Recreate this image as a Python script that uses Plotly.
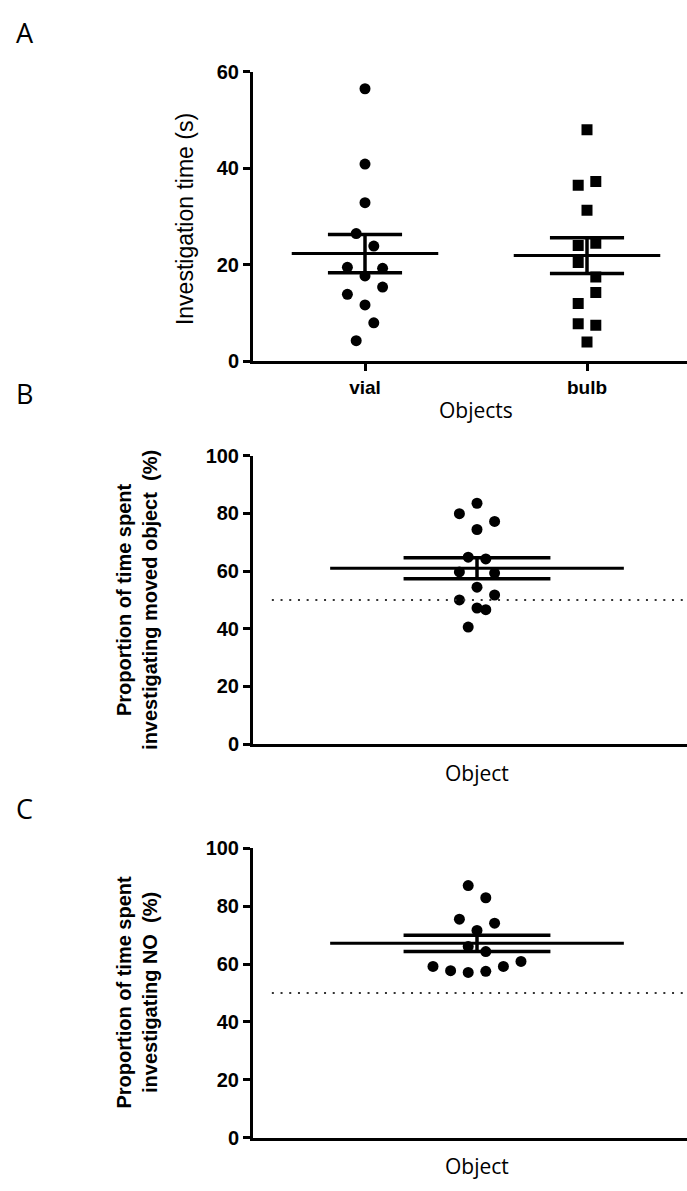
import plotly.graph_objects as go
import numpy as np

W, H = 687, 1191

# ---------------- data ----------------
a_categories = ["vial", "bulb"]
vial_time = [56.5, 40.9, 32.9, 26.5, 23.9, 19.5, 19.3, 17.7, 15.4, 13.9, 11.7, 8.0, 4.3]
bulb_time = [48.0, 37.3, 36.5, 31.3, 24.5, 24.0, 20.5, 17.5, 14.3, 12.0, 7.8, 7.5, 4.0]

moved_pct = [83.5, 79.9, 77.2, 74.4, 64.8, 64.2, 59.7, 59.3, 54.4, 50.0, 51.7, 47.2, 46.6, 40.6]
novel_pct = [87.1, 82.9, 75.5, 74.1, 71.6, 66.1, 64.3, 59.2, 57.7, 57.1, 57.5, 59.2, 60.9]

chance_level = 50

# beeswarm slot of every point (layout only)
vial_slot = [0, 0, 0, -1, 1, -2, 2, 0, 2, -2, 0, 1, -1]
bulb_slot = [0, 1, -1, 0, 1, -1, -1, 1, 1, -1, -1, 1, 0]
moved_slot = [0, -2, 2, 0, -1, 1, -2, 2, 0, -2, 2, 0, 1, -1]
novel_slot = [-1, 1, -2, 2, 0, -1, 1, -5, -3, -1, 1, 3, 5]

# ---------------- helpers ----------------
def px(x):
    return x / W

def py(y):
    return 1 - y / H

def mean_sem(v):
    a = np.asarray(v, dtype=float)
    return a.mean(), a.std(ddof=1) / np.sqrt(len(a))

fig = go.Figure()

def add_group(values, slots, center, step, symbol, xa, ya, half_mean, half_cap):
    xs = [center + s * step for s in slots]
    fig.add_trace(go.Scatter(
        x=xs, y=values, mode="markers", xaxis=xa, yaxis=ya,
        marker=dict(symbol=symbol, size=11, color="black", line=dict(width=0)),
        showlegend=False, hoverinfo="y"))
    m, s = mean_sem(values)
    fig.add_trace(go.Scatter(
        x=[center - half_mean, center + half_mean], y=[m, m], mode="lines",
        xaxis=xa, yaxis=ya, line=dict(color="black", width=3), showlegend=False, hoverinfo="skip"))
    fig.add_trace(go.Scatter(
        x=[center - half_cap, center + half_cap, None, center - half_cap, center + half_cap, None, center, center],
        y=[m + s, m + s, None, m - s, m - s, None, m - s, m + s], mode="lines",
        xaxis=xa, yaxis=ya, line=dict(color="black", width=3.5), showlegend=False, hoverinfo="skip"))

# Panel A: 222 px per category unit
stepA = 8.8 / 222
add_group(vial_time, vial_slot, 0, stepA, "circle", "x", "y", 0.33, 0.167)
add_group(bulb_time, bulb_slot, 1, stepA, "square", "x", "y", 0.33, 0.167)

# Panel B / C: 445 px per unit
stepB = 8.8 / 445
add_group(moved_pct, moved_slot, 0, stepB, "circle", "x2", "y2", 0.33, 0.165)
add_group(novel_pct, novel_slot, 0, stepB, "circle", "x3", "y3", 0.33, 0.165)

xrB = [-224 / 445, (W - 477) / 445]
for xa, ya in (("x2", "y2"), ("x3", "y3")):
    fig.add_trace(go.Scatter(
        x=[-0.461, xrB[1]], y=[chance_level, chance_level], mode="lines",
        xaxis=xa, yaxis=ya, line=dict(color="#333333", width=2, dash="2px,6.7px"),
        showlegend=False, hoverinfo="skip"))

tickfont = dict(family="Liberation Sans, Arial", size=20, color="black", weight="bold")

common_y = dict(showline=True, linewidth=3, linecolor="black", ticks="outside",
                ticklen=7, tickwidth=3, tickcolor="black", showgrid=False,
                zeroline=False, tickfont=tickfont)
common_x = dict(showline=True, linewidth=3, linecolor="black", showgrid=False,
                zeroline=False)

fig.update_layout(
    width=W, height=H, margin=dict(l=0, r=0, t=0, b=0),
    plot_bgcolor="white", paper_bgcolor="white", showlegend=False,
    xaxis=dict(domain=[px(253), 1.0], range=[-112 / 222, (W - 365) / 222],
               tickvals=[0, 1], ticktext=a_categories, ticks="outside", ticklen=7,
               tickwidth=3, tickcolor="black",
               tickfont=dict(family="Liberation Sans, Arial", size=19, color="black", weight="bold"),
               anchor="y", **common_x),
    yaxis=dict(domain=[py(357), py(62)], range=[0, 60], tickvals=[0, 20, 40, 60],
               anchor="x", **common_y),
    xaxis2=dict(domain=[px(253), 1.0], range=xrB, showticklabels=False, ticks="",
                anchor="y2", **common_x),
    yaxis2=dict(domain=[py(747), py(453)], range=[0, 100], tickvals=[0, 20, 40, 60, 80, 100],
                anchor="x2", **common_y),
    xaxis3=dict(domain=[px(253), 1.0], range=xrB, showticklabels=False, ticks="",
                anchor="y3", **common_x),
    yaxis3=dict(domain=[py(1148), py(853)], range=[0, 100], tickvals=[0, 20, 40, 60, 80, 100],
                anchor="x3", **common_y),
)

def note(text, x, y, size, family="Liberation Sans, Arial", angle=0, weight="normal"):
    fig.add_annotation(text=text, x=px(x), y=py(y), xref="paper", yref="paper",
                       showarrow=False, textangle=angle, xanchor="center", yanchor="middle",
                       font=dict(family=family, size=size, color="black", weight=weight))

label_font = "Open Sans, Noto Sans"
note("A", 25, 22, 27, family=label_font)
note("B", 25, 390, 27, family=label_font)
note("C", 25, 812, 27, family=label_font)

note("Investigation time (s)", 185, 212, 23, angle=-90)
note("Objects", 476, 406, 21, family=label_font)
note("Object", 477, 776, 21, family=label_font)
note("Object", 477, 1177, 21, family=label_font)

note("Proportion of time spent<br>investigating moved object  (%)", 137, 600, 20,
     angle=-90, weight="bold")
note("Proportion of time spent<br>investigating NO  (%)", 137, 1000, 20,
     angle=-90, weight="bold")

fig.write_html("out.html")
